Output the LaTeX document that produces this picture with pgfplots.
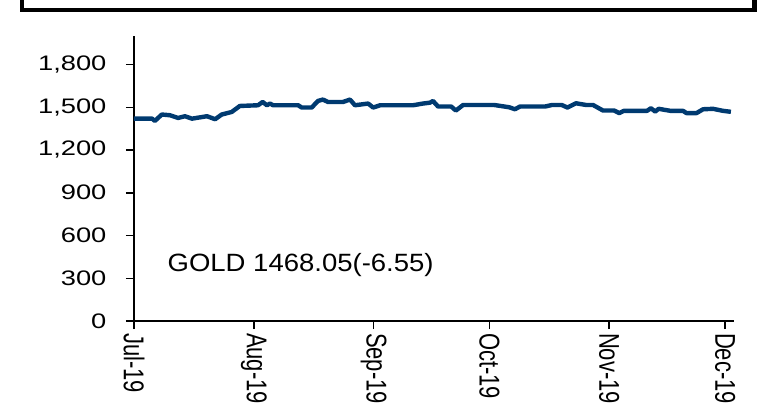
\documentclass[border=0pt]{standalone}
\usepackage{fontspec}
\setmainfont{Liberation Sans}
\usepackage{pgfplots}
\pgfplotsset{compat=1.18}
\definecolor{goldline}{RGB}{0,58,112}

\begin{document}
\begin{tikzpicture}
\useasboundingbox (0,0) rectangle (383.5pt,209.5pt);
% top frame (only its lower part is visible)
\draw[line width=2.3pt] (11pt,215pt) -- (11pt,204.5pt) -- (377.25pt,204.5pt) -- (377.25pt,215pt);
\begin{axis}[
    at={(67pt,49pt)}, anchor=south west,
    scale only axis,
    width=300pt, height=142.5pt,
    xmin=0, xmax=155.3,
    ymin=0, ymax=2000,
    axis lines=left,
    axis line style={-, line width=0.75pt},
    tick style={black, line width=0.75pt},
    tick align=outside,
    major tick length=4pt,
    xtick={0,31,62,92,123,153},
    xticklabels={Jul-19,Aug-19,Sep-19,Oct-19,Nov-19,Dec-19},
    xticklabel style={font=\fontsize{11}{12}\selectfont, rotate=-90, yscale=1.3, anchor=west, xshift=-1.5pt},
    ytick={0,300,...,1800},
    yticklabel style={font=\fontsize{10.5}{12}\selectfont, xscale=1.3, anchor=east, xshift=-4pt},
    /pgf/number format/assume math mode=true,
    /pgf/number format/1000 sep={,},
    clip=false,
]
\addplot[goldline, line width=2.2pt, line join=round] coordinates {
(0,1420) (4.7,1420) (5.4,1404) (7.2,1449) (9.3,1444) (11.4,1425) (13.2,1437)
(15.0,1420) (18.9,1437) (21.0,1416) (22.7,1449) (25.3,1467) (27.4,1509)
(32.1,1514) (33.3,1537) (34.4,1514) (35.2,1526) (36.0,1514) (42.5,1514)
(43.4,1498) (46.0,1498) (47.6,1544) (48.9,1554) (50.2,1537) (54.1,1537)
(55.9,1554) (57.2,1514) (60.6,1526) (61.9,1498) (63.7,1514) (72.2,1514)
(74.8,1526) (76.6,1532) (77.4,1544) (78.7,1505) (82.1,1505) (83.3,1477)
(85.2,1516) (93.2,1516) (97.1,1500) (98.6,1486) (99.9,1505) (106.4,1505)
(108.2,1516) (110.7,1516) (112.2,1498) (114.4,1528) (117.0,1516) (118.8,1516)
(121.4,1477) (124.3,1477) (125.6,1459) (126.8,1475) (132.8,1475) (133.8,1493)
(134.9,1470) (135.8,1489) (138.8,1475) (142.1,1475) (143.0,1459) (145.6,1459)
(147.3,1486) (149.9,1489) (152.4,1475) (154.5,1468)
};
\node[anchor=west, inner sep=0pt, xscale=1.1, font=\fontsize{12.5}{14}\selectfont]
    at (axis cs:8.6,392) {GOLD 1468.05(-6.55)};
\end{axis}
\end{tikzpicture}
\end{document}
